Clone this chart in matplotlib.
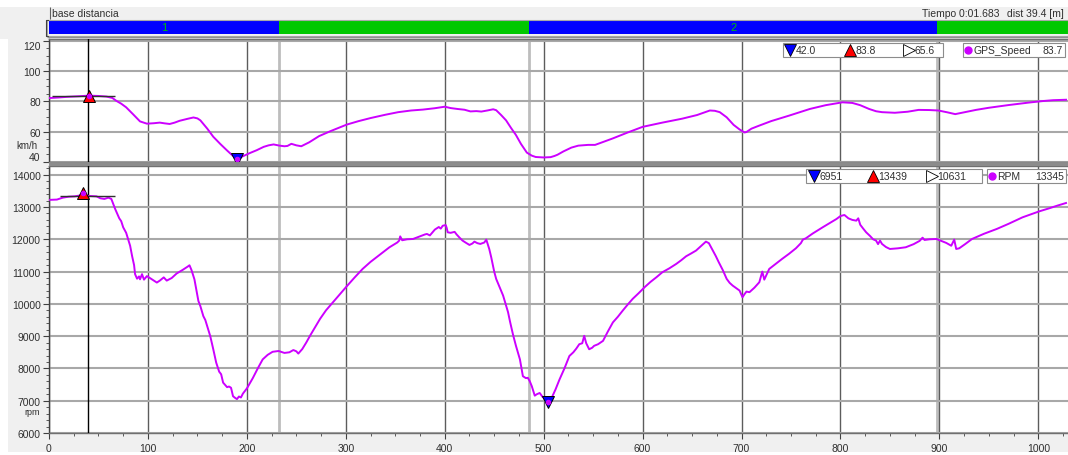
import matplotlib
matplotlib.use("Agg")
import matplotlib.pyplot as plt
from matplotlib.ticker import MultipleLocator, FixedLocator
from matplotlib.patches import Rectangle
import numpy as np

plt.rcParams['font.family'] = ['Liberation Sans', 'DejaVu Sans']

# ---------------------------------------------------------------- data
# GPS speed along the lap (distance in m, speed in km/h)
speed_dist = [0, 10, 18, 30, 40, 50, 58, 64, 68, 73, 78, 85, 92, 99, 106, 112, 117, 122,
              127, 132, 140, 146, 150, 153, 160, 166, 173, 180, 186, 190, 195, 203, 210,
              217, 222, 227, 233, 238, 241, 245, 250, 255, 263, 273, 285, 301, 313, 325,
              340, 353, 366, 378, 390, 400, 406, 413, 420, 426, 432, 437, 443, 449, 452,
              457, 462, 467, 472, 477, 483, 488, 492, 500, 507, 511, 514, 520, 528, 535,
              545, 552, 560, 570, 585, 600, 620, 640, 655, 668, 673, 678, 685, 692, 698,
              703, 705, 710, 717, 730, 748, 769, 785, 802, 812, 820, 829, 836, 842, 855,
              868, 879, 890, 899, 908, 916, 925, 937, 950, 970, 990, 1004, 1015, 1028]
speed_kmh = [82.2, 82.6, 83.0, 83.4, 83.8, 83.6, 83.2, 82.3, 80.4, 78.5, 76.1, 71.5, 66.8,
             65.3, 65.6, 66.0, 65.5, 65.1, 66.0, 67.2, 68.5, 69.4, 68.8, 67.5, 62.0, 56.7,
             52.0, 47.6, 44.0, 42.0, 43.5, 45.9, 47.8, 50.0, 51.0, 51.6, 50.8, 50.4, 50.6,
             52.0, 51.0, 50.4, 53.0, 57.1, 60.5, 64.7, 67.0, 69.0, 71.2, 72.9, 74.0, 74.6,
             75.5, 76.5, 75.6, 75.0, 74.5, 73.4, 73.6, 73.3, 74.0, 74.8, 74.2, 71.0, 67.5,
             62.5, 57.8, 52.0, 46.2, 44.2, 43.3, 43.0, 43.2, 44.0, 44.8, 47.0, 49.5, 50.8,
             51.3, 51.3, 53.2, 55.6, 59.5, 63.2, 66.0, 68.6, 71.0, 74.0, 73.8, 72.9, 69.5,
             64.5, 61.5, 59.5, 59.8, 62.0, 63.8, 67.0, 70.6, 75.0, 77.5, 79.4, 79.0, 77.5,
             75.0, 73.5, 72.9, 72.5, 73.2, 74.4, 74.3, 74.0, 72.8, 71.6, 72.8, 74.4, 75.8,
             77.6, 79.2, 80.2, 80.8, 81.1]

# Engine speed along the lap (distance in m, rpm)
rpm_dist = [0, 8, 14, 20, 26, 32, 34, 36, 42, 48, 52, 56, 60, 63, 67, 71, 73, 75, 78, 80,
            82, 84, 86, 87, 89, 91, 92, 94, 96, 99, 102, 106, 109, 112, 116, 119, 124, 129,
            135, 140, 142, 144, 147, 151, 153, 156, 158, 160, 163, 166, 169, 172, 174, 176,
            180, 182, 184, 186, 188, 190, 192, 194, 196, 200, 206, 211, 216, 221, 226, 232,
            238, 243, 247, 250, 252, 256, 260, 264, 269, 274, 280, 287, 294, 301, 309, 317,
            325, 334, 344, 352, 354, 355, 357, 362, 368, 374, 380, 382, 385, 390, 394, 396,
            398, 401, 402, 403, 406, 410, 412, 415, 418, 421, 425, 428, 430, 433, 436, 440,
            442, 445, 447, 450, 452, 455, 459, 462, 464, 466, 469, 472, 476, 479, 482, 484,
            486, 488, 491, 493, 496, 499, 502, 504, 506, 508, 512, 516, 521, 526, 530, 533,
            536, 539, 541, 543, 546, 549, 551, 555, 560, 565, 570, 575, 580, 585, 590, 596,
            602, 608, 614, 620, 627, 634, 639, 644, 649, 654, 659, 664, 667, 671, 674, 677,
            681, 685, 688, 691, 694, 698, 701, 703, 705, 708, 713, 718, 721, 723, 728, 735,
            741, 748, 755, 760, 762, 765, 772, 782, 789, 796, 800, 804, 808, 812, 816, 818,
            820, 823, 826, 830, 833, 836, 838, 840, 842, 846, 850, 858, 866, 874, 880, 883,
            885, 890, 897, 902, 907, 912, 915, 917, 920, 926, 933, 945, 958, 970, 984, 993,
            1001, 1010, 1020, 1028]
rpm_vals = [13220, 13230, 13290, 13320, 13330, 13360, 13439, 13350, 13340, 13330, 13270,
            13250, 13290, 13250, 12930, 12650, 12560, 12370, 12200, 12000, 11800, 11480,
            11200, 10920, 10780, 10850, 10760, 10920, 10750, 10860, 10800, 10720, 10660,
            10720, 10820, 10720, 10800, 10940, 11050, 11150, 11195, 11050, 10760, 10090,
            9930, 9620, 9500, 9300, 9000, 8600, 8180, 7900, 7820, 7560, 7420, 7440, 7400,
            7140, 7090, 7050, 7130, 7100, 7220, 7380, 7700, 8000, 8280, 8420, 8515, 8540,
            8480, 8500, 8570, 8530, 8460, 8600, 8800, 9020, 9280, 9536, 9800, 10050, 10300,
            10546, 10820, 11082, 11300, 11515, 11750, 11900, 11960, 12090, 11970, 12000,
            12010, 12080, 12150, 12165, 12120, 12300, 12380, 12330, 12420, 12440, 12350,
            12216, 12200, 12230, 12150, 12050, 11960, 11900, 11825, 11870, 11928, 11880,
            11856, 11900, 11990, 11700, 11443, 11000, 10773, 10550, 10258, 9950, 9742, 9450,
            9050, 8700, 8280, 7760, 7700, 7710, 7600, 7450, 7156, 7200, 7240, 7115, 7050,
            6951, 7000, 7083, 7350, 7656, 8000, 8385, 8500, 8615, 8750, 8780, 9010, 8780,
            8594, 8640, 8700, 8750, 8854, 9150, 9427, 9600, 9794, 9980, 10155, 10330, 10515,
            10680, 10825, 10980, 11100, 11237, 11350, 11474, 11560, 11650, 11790, 11928,
            11880, 11650, 11480, 11289, 11050, 10773, 10650, 10567, 10500, 10412, 10206,
            10300, 10380, 10361, 10500, 10670, 11000, 10750, 11082, 11250, 11392, 11550,
            11722, 11880, 11990, 12030, 12180, 12371, 12500, 12629, 12720, 12753, 12650,
            12600, 12577, 12650, 12450, 12330, 12216, 12100, 12000, 11960, 11850, 11960,
            11856, 11760, 11700, 11720, 11753, 11850, 11950, 12050, 11979, 12000, 12010,
            11950, 11887, 11800, 11990, 11700, 11720, 11850, 12010, 12170, 12320, 12480,
            12680, 12780, 12866, 12950, 13050, 13124]

# lap segments (start/end distances) and their labels
segment_edges = [0, 232, 485, 898, 1030]
segment_labels = ["1", "", "2", ""]

# cursor position and channel readings at the cursor
cursor_dist = 39.4
cursor_time = "0:01.683"
speed_cursor = 83.7
rpm_cursor = 13345
speed_mean = 65.6
rpm_mean = 10631

x_ticks = [0, 100, 200, 300, 400, 500, 600, 700, 800, 900, 1000]
speed_ticks = [40, 60, 80, 100, 120]
rpm_ticks = [6000, 7000, 8000, 9000, 10000, 11000, 12000, 13000, 14000]

# ---------------------------------------------------------------- layout
W, H = 1068, 456
BG = "#f0f0f0"
TRACE = "#cc00ff"
SEG_COLORS = ["#0000ff", "#00c800"]
TXT = "#303030"

fig = plt.figure(figsize=(W / 100, H / 100), dpi=100, facecolor=BG)


def box(x0, y0, x1, y1):
    """pixel box (top-left origin) -> figure rect"""
    return [x0 / W, 1 - y1 / H, (x1 - x0) / W, (y1 - y0) / H]


# background strips of the window frame
frame = fig.add_axes([0, 0, 1, 1], zorder=0)
frame.set_xlim(0, W)
frame.set_ylim(H, 0)
frame.axis("off")
frame.add_patch(Rectangle((0, 0), W, 8, fc="white", ec="none"))
frame.add_patch(Rectangle((0, 40), 8, H - 40, fc="white", ec="none"))
frame.add_patch(Rectangle((0, H - 3), W, 3, fc="white", ec="none"))

ax_s = fig.add_axes(box(49, 40, 1068, 163), zorder=2)
ax_r = fig.add_axes(box(49, 167, 1068, 434), zorder=2)
ax_seg = fig.add_axes(box(49, 22, 1068, 35), zorder=2)

x_max = segment_edges[-1]

# segment strip
for i, (a, b) in enumerate(zip(segment_edges[:-1], segment_edges[1:])):
    ax_seg.axvspan(a, b, color=SEG_COLORS[i % 2], lw=0)
    if segment_labels[i]:
        ax_seg.text((a + b) / 2, 0.5, segment_labels[i], color="#00c000", fontsize=8,
                    ha="center", va="center")
ax_seg.set_xlim(0, x_max)
ax_seg.set_ylim(0, 1)
ax_seg.set_xticks([])
ax_seg.set_yticks([])
for sp in ax_seg.spines.values():
    sp.set_visible(False)


def style_panel(ax, ticks, minor, ylim):
    ax.set_facecolor("white")
    ax.set_xlim(0, x_max)
    ax.set_ylim(*ylim)
    ax.yaxis.set_major_locator(FixedLocator(ticks))
    ax.yaxis.set_minor_locator(MultipleLocator(minor))
    ax.xaxis.set_major_locator(FixedLocator(x_ticks))
    ax.xaxis.set_minor_locator(MultipleLocator(25))
    ax.grid(axis="y", which="major", color="#a8a8a8", lw=1.5, zorder=0)
    ax.grid(axis="x", which="major", color="#5c5c5c", lw=1.0, zorder=0)
    for e in segment_edges[1:-1]:
        ax.axvline(e, color="#bdbdbd", lw=2, zorder=0.5)
    ax.axvline(cursor_dist, color="black", lw=1, zorder=3)
    for name, sp in ax.spines.items():
        sp.set_visible(name in ("left", "top", "bottom"))
        sp.set_color("#707070")
        sp.set_linewidth(1.0)
    ax.spines["left"].set_color("#404040")
    ax.tick_params(axis="y", which="major", length=4, width=0.8, color="#404040",
                   labelsize=7.5, labelcolor=TXT, pad=2)
    ax.tick_params(axis="y", which="minor", length=2, width=0.6, color="#404040")
    ax.tick_params(axis="x", which="major", length=4, width=0.8, color="#404040",
                   labelsize=7.5, labelcolor=TXT, pad=3)
    ax.tick_params(axis="x", which="minor", length=2, width=0.6, color="#404040")


style_panel(ax_s, speed_ticks, 5, (40, 121.2))
style_panel(ax_r, rpm_ticks, 200, (6000, 14270))
ax_s.tick_params(axis="x", which="both", bottom=False, labelbottom=False)

# keep the edge labels inside the speed panel
s_ticks = ax_s.yaxis.get_major_ticks()
s_ticks[0].label1.set_va("bottom")
s_ticks[-1].label1.set_va("top")


def draw_channel(ax, xs, ys, cursor_val, span):
    xs = np.asarray(xs, dtype=float)
    ys = np.asarray(ys, dtype=float)
    ax.plot(xs, ys, color=TRACE, lw=1.4, zorder=4, solid_joinstyle="round")
    ax.hlines(cursor_val, span[0], span[1], color="#303030", lw=1, zorder=5)
    i_hi, i_lo = int(np.argmax(ys)), int(np.argmin(ys))
    ax.plot(xs[i_hi], ys[i_hi], marker="^", ms=9, mfc="#ff0000", mec="black",
            mew=0.7, zorder=6, clip_on=False)
    ax.plot(xs[i_lo], ys[i_lo], marker="v", ms=9, mfc="#0000ff", mec="black",
            mew=0.7, zorder=6, clip_on=False)
    ax.plot([xs[i_hi], xs[i_lo]], [ys[i_hi], ys[i_lo]], ls="none", marker="o", ms=3,
            color=TRACE, zorder=7, clip_on=False)
    return ys[i_lo], ys[i_hi]


s_lo, s_hi = draw_channel(ax_s, speed_dist, speed_kmh, speed_cursor, (3, 67))
r_lo, r_hi = draw_channel(ax_r, rpm_dist, rpm_vals, rpm_cursor, (11, 67))

# ---------------------------------------------------------------- annotations (pixel space)
ov = fig.add_axes([0, 0, 1, 1], zorder=10)
ov.set_xlim(0, W)
ov.set_ylim(H, 0)
ov.axis("off")
ov.patch.set_alpha(0)

ov.vlines(50, 8, 20, color="#606060", lw=0.8)
ov.text(52, 14, "base distancia", fontsize=7.5, color=TXT, va="center", ha="left")
ov.text(1000, 14, f"Tiempo {cursor_time}", fontsize=7.5, color=TXT, va="center", ha="right")
ov.text(1064, 14, f"dist {cursor_dist:.1f} [m]", fontsize=7.5, color=TXT, va="center",
        ha="right")

# strip frame and panel separators
ov.add_patch(Rectangle((47, 20.5), W - 47, 16, fc="none", ec="#a8a8a8", lw=0.8))
ov.plot([48, 45.5, 45.5, 48], [21, 21, 37, 37], color="#404040", lw=0.8)
ov.hlines([38.3], 47, W, color="#909090", lw=1.0)
ov.hlines([163.8, 166.2], 49, W, color="#8a8a8a", lw=1.4)

ov.text(27, 146, "km/h", fontsize=7, color=TXT, ha="center", va="center")
ov.text(32, 413, "rpm", fontsize=6.5, color=TXT, ha="center", va="center")


def stat_boxes(y, b1, mark_x, b2, lo, hi, mean, name, cur, fmt):
    for bx in (b1, b2):
        ov.add_patch(Rectangle((bx[0], y - 7), bx[1] - bx[0], 14, fc="white",
                               ec="#8c8c8c", lw=0.8))
    marks = [("v", "#0000ff", lo), ("^", "#ff0000", hi), (">", "white", mean)]
    for x0, (m, c, v) in zip(mark_x, marks):
        ov.plot(x0, y, marker=m, ms=8, mfc=c, mec="black", mew=0.6)
        ov.text(x0 + 5.5, y, fmt(v), fontsize=7.5, color=TXT, ha="left", va="center")
    ov.plot(b2[0] + 5, y, marker="o", ms=5, color=TRACE)
    ov.text(b2[0] + 10, y, name, fontsize=7.5, color=TXT, ha="left", va="center")
    ov.text(b2[1] - 2, y, fmt(cur), fontsize=7.5, color=TXT, ha="right", va="center")


stat_boxes(51, (783, 943), (790, 850, 909), (963, 1065), s_lo, s_hi, speed_mean,
           "GPS_Speed", speed_cursor, lambda v: f"{v:.1f}")
stat_boxes(177, (806, 982), (814, 873, 932), (987, 1066), r_lo, r_hi, rpm_mean,
           "RPM", rpm_cursor, lambda v: f"{v:.0f}")

fig.savefig("out.png", dpi=100, facecolor=BG)
